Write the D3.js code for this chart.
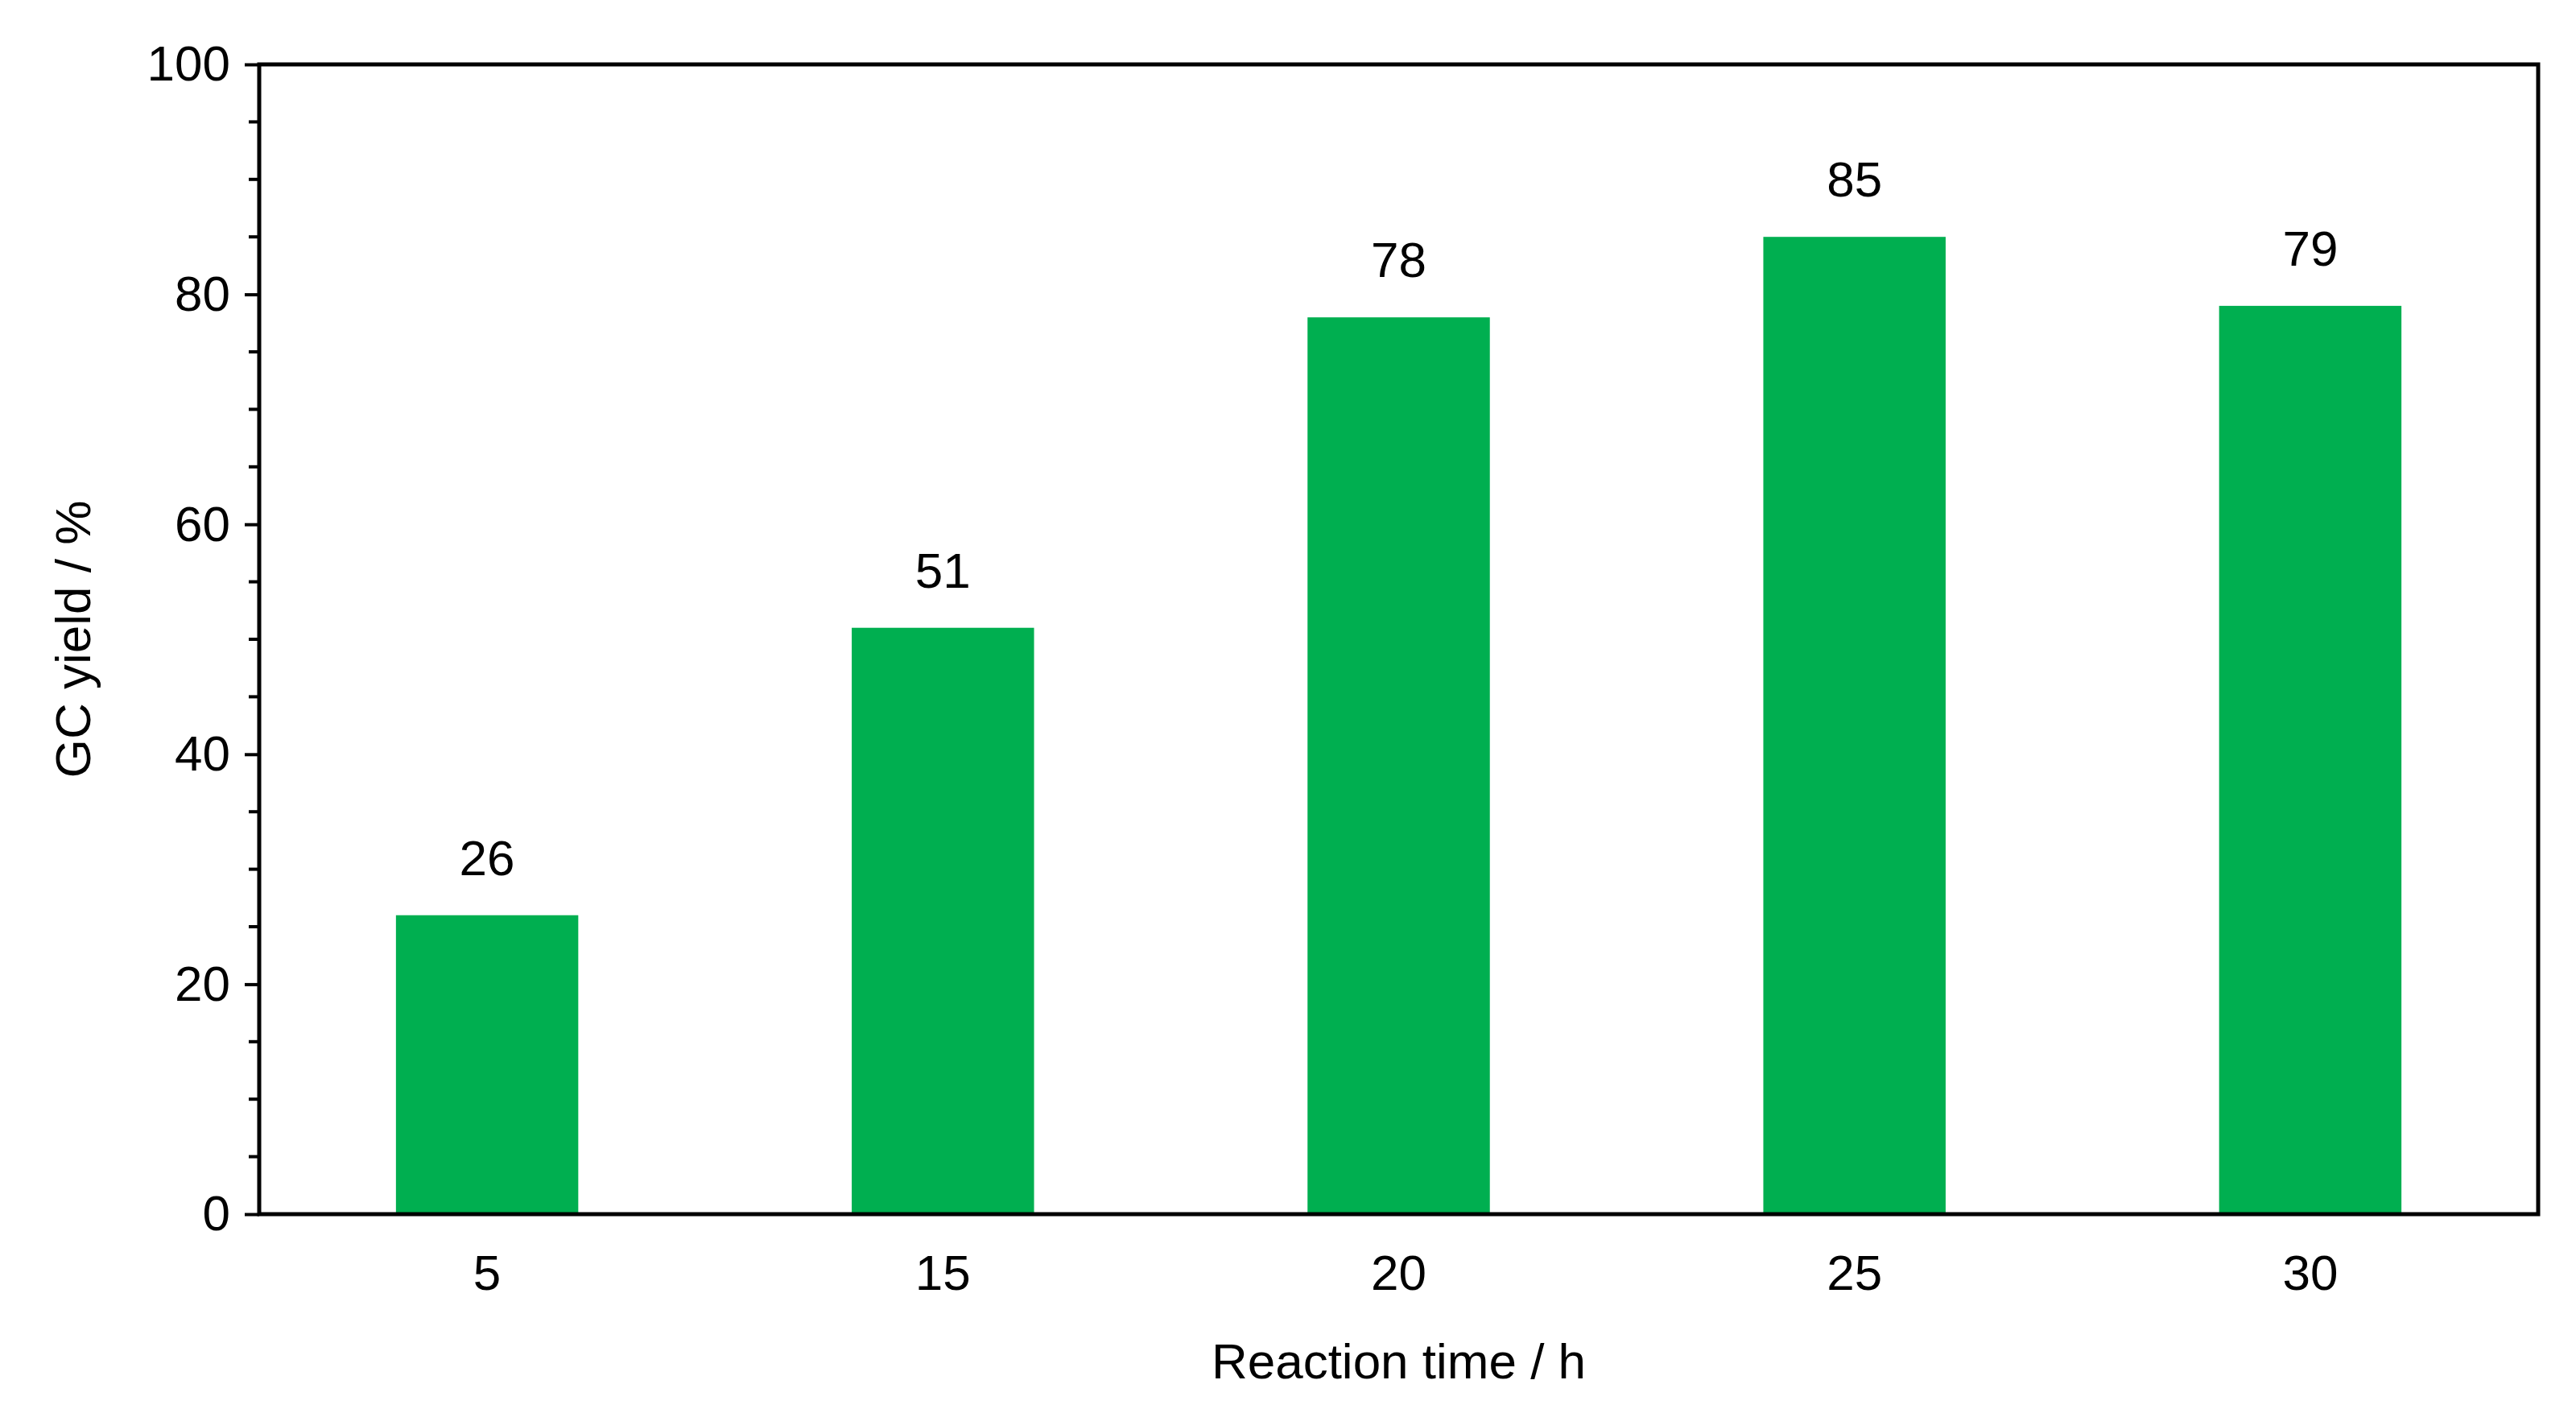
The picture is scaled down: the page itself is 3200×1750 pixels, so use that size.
<!DOCTYPE html>
<html><head><meta charset="utf-8">
<script src="https://cdn.jsdelivr.net/npm/d3@7"></script>
<style>body{margin:0;background:#fff}text{font-family:"Liberation Sans",Arial,sans-serif;fill:#000}</style>
</head><body><svg id="c" width="3200" height="1750"></svg>
<script>
const categories = ["5","15","20","25","30"];
const yields = [26,51,78,85,79];
const yTicks = [0,20,40,60,80,100];

const m = {l:322,r:3153,t:80,b:1508};
const svg = d3.select("#c");
const x = d3.scaleBand().domain(categories).range([m.l,m.r]).paddingInner(0.6).paddingOuter(0.3);
const y = d3.scaleLinear().domain([0,100]).range([m.b,m.t]);

svg.selectAll("rect.bar").data(yields).join("rect").attr("class","bar")
  .attr("x",(d,i)=>x(categories[i])).attr("width",x.bandwidth())
  .attr("y",d=>y(d)).attr("height",d=>y(0)-y(d)).attr("fill","#00AF50");

svg.selectAll("text.val").data(yields).join("text").attr("class","val")
  .attr("x",(d,i)=>x(categories[i])+x.bandwidth()/2).attr("y",d=>y(d)-50)
  .attr("text-anchor","middle").attr("font-size",62).text(d=>d);

// frame
svg.append("rect").attr("x",m.l).attr("y",m.t).attr("width",m.r-m.l).attr("height",m.b-m.t)
  .attr("fill","none").attr("stroke","#000").attr("stroke-width",5);

// minor ticks
const minor = d3.range(0,101,5).filter(v=>v%20!==0);
svg.selectAll("line.minor").data(minor).join("line")
  .attr("x1",m.l-13).attr("x2",m.l).attr("y1",d=>y(d)).attr("y2",d=>y(d))
  .attr("stroke","#000").attr("stroke-width",4);

const ya = svg.append("g").attr("transform",`translate(${m.l},0)`)
  .call(d3.axisLeft(y).tickValues(yTicks).tickSize(18).tickPadding(18));
ya.select(".domain").remove();
ya.selectAll("line").attr("stroke-width",4);
ya.selectAll("text").attr("font-size",62).attr("font-family","Liberation Sans, Arial");

const xa = svg.append("g").attr("transform",`translate(0,${m.b})`)
  .call(d3.axisBottom(x).tickSize(0).tickPadding(50));
xa.select(".domain").remove();
xa.selectAll("text").attr("font-size",62).attr("font-family","Liberation Sans, Arial");

svg.append("text").attr("x",(m.l+m.r)/2).attr("y",1712).attr("text-anchor","middle")
  .attr("font-size",62).text("Reaction time / h");
svg.append("text").attr("transform",`translate(112,${(m.t+m.b)/2}) rotate(-90)`)
  .attr("text-anchor","middle").attr("font-size",62).text("GC yield / %");
</script></body></html>
